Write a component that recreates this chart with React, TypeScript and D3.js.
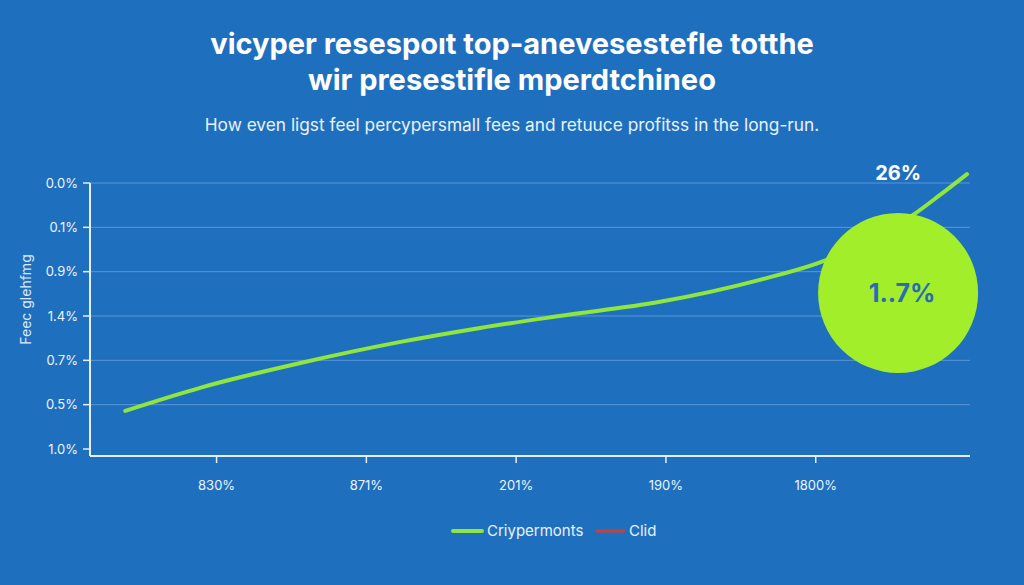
import * as d3 from "d3";

// axis tick labels (top to bottom on y, left to right on x)
const yTickLabels = ["0.0%", "0.1%", "0.9%", "1.4%", "0.7%", "0.5%", "1.0%"];
const xTickLabels = ["830%", "871%", "201%", "190%", "1800%"];

// fee drag curve: x in period index, y in gridline units from the bottom
const curveX = [-0.61, -0.11, 0.56, 1.22, 1.76, 2.29, 2.96, 3.62, 4.07, 4.36, 4.65, 4.83, 5.01];
const curveY = [0.86, 1.38, 1.94, 2.41, 2.73, 3.0, 3.32, 3.81, 4.26, 4.71, 5.28, 5.73, 6.2];

// highlight bubble and end label
const bubble = { x: 4.55, y: 3.52, label: "1..7%" };
const endLabel = { x: 4.55, y: 6.23, label: "26%" };

const legendItems = [
  { name: "Criypermonts", color: "#8fe63c" },
  { name: "Clid", color: "#c8403a" },
];

const W = 1024;
const H = 585;
const BG = "#1f6fbf";
const FONT = "Inter, 'Open Sans', sans-serif";

export default function App() {
  const margin = { top: 183, right: 54, left: 90 };
  const plotBottom = 456;

  const x = d3.scaleLinear().domain([-0.845, 5.03]).range([margin.left, W - margin.right]);
  const y = d3.scaleLinear().domain([0, 6]).range([449, margin.top]);
  const yTicks = d3
    .scalePoint<string>()
    .domain(yTickLabels)
    .range([y(6), y(0)]);

  const pts = curveX.map((v, i) => [v, curveY[i]] as [number, number]);
  const line = d3
    .line<[number, number]>()
    .x((d) => x(d[0]))
    .y((d) => y(d[1]))
    .curve(d3.curveMonotoneX);

  const r = 80;

  return (
    <svg
      width={W}
      height={H}
      style={{ position: "absolute", left: 0, top: 0, background: BG, fontFamily: FONT }}
    >
      <rect width={W} height={H} fill={BG} />

      {/* title */}
      <g fill="#ffffff" fontWeight={700} fontSize={29} textAnchor="middle">
        <text x={W / 2} y={54}>vicyper resespoıt top-anevesestefle totthe</text>
        <text x={W / 2} y={90}>wir presestifle mperdtchineo</text>
      </g>
      <text x={W / 2} y={131} fill="#eaf2fb" fontSize={17.3} textAnchor="middle">
        How even ligst feel percypersmall fees and retuuce profitss in the long-run.
      </text>

      {/* gridlines */}
      {yTickLabels.slice(0, -1).map((t) => (
        <line
          key={t}
          x1={margin.left}
          x2={W - margin.right}
          y1={yTicks(t)}
          y2={yTicks(t)}
          stroke="#5b97d6"
          strokeWidth={1}
        />
      ))}

      {/* y axis */}
      <line x1={margin.left} x2={margin.left} y1={y(6)} y2={plotBottom} stroke="#e6eef8" strokeWidth={2} />
      {yTickLabels.map((t) => (
        <g key={t} transform={`translate(${margin.left},${yTicks(t)})`}>
          <line x1={-7} x2={0} stroke="#e6eef8" strokeWidth={1.5} />
          <text x={-12} dy="0.35em" fill="#eef4fb" fontSize={13} textAnchor="end">
            {t}
          </text>
        </g>
      ))}
      <text
        transform={`translate(26,${(y(6) + plotBottom) / 2 - 20}) rotate(-90)`}
        fill="#dfe9f6"
        fontSize={14}
        textAnchor="middle"
        dy="0.35em"
      >
        Feec glehfmg
      </text>

      {/* x axis */}
      <line x1={margin.left} x2={W - margin.right} y1={plotBottom} y2={plotBottom} stroke="#e6eef8" strokeWidth={2} />
      {xTickLabels.map((t, i) => (
        <g key={t} transform={`translate(${x(i)},${plotBottom})`}>
          <line y1={0} y2={7} stroke="#e6eef8" strokeWidth={1.5} />
          <text y={34} fill="#eef4fb" fontSize={13} textAnchor="middle">
            {t}
          </text>
        </g>
      ))}

      {/* fee curve */}
      <path d={line(pts) ?? ""} fill="none" stroke="#8fe63c" strokeWidth={4} strokeLinecap="round" />

      {/* highlight bubble */}
      <circle cx={x(bubble.x)} cy={y(bubble.y)} r={r} fill="#a2ee2b" />
      <text
        x={x(bubble.x) + 4}
        y={y(bubble.y)}
        dy="0.35em"
        fill="#2a6bb4"
        fontSize={25}
        fontWeight={700}
        textAnchor="middle"
      >
        {bubble.label}
      </text>
      <text
        x={x(endLabel.x)}
        y={y(endLabel.y)}
        dy="0.35em"
        fill="#ffffff"
        fontSize={20}
        fontWeight={700}
        textAnchor="middle"
      >
        {endLabel.label}
      </text>

      {/* legend */}
      <g transform="translate(453,531)">
        <line x1={0} x2={29} stroke={legendItems[0].color} strokeWidth={4} strokeLinecap="round" />
        <text x={34} dy="0.35em" fill="#eaf2fb" fontSize={15}>
          {legendItems[0].name}
        </text>
        <line x1={144} x2={171} stroke={legendItems[1].color} strokeWidth={3} strokeLinecap="round" />
        <text x={176} dy="0.35em" fill="#eaf2fb" fontSize={15}>
          {legendItems[1].name}
        </text>
      </g>
    </svg>
  );
}
